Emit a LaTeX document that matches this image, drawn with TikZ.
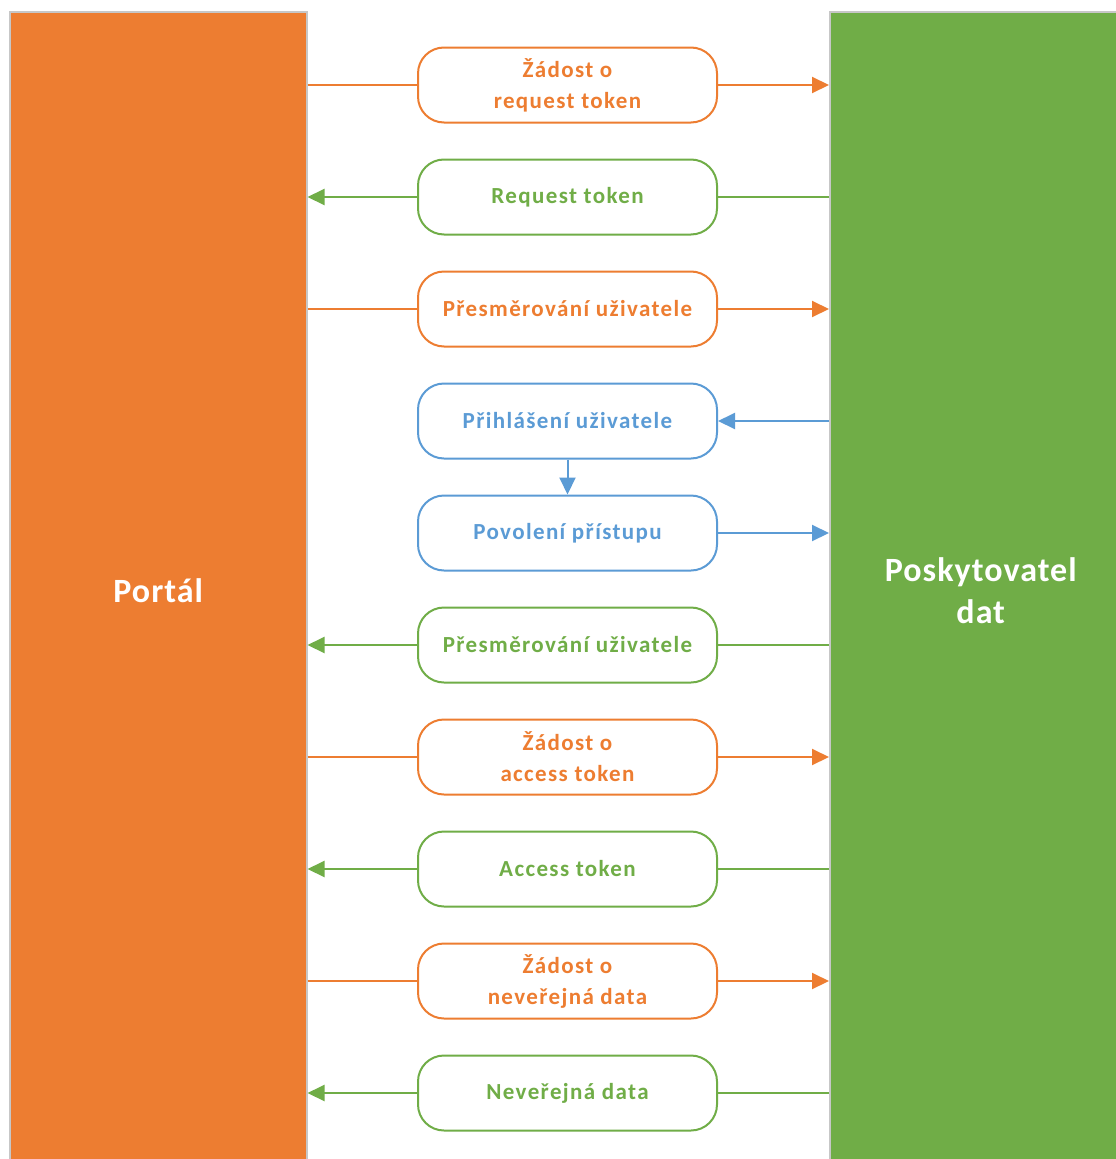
\documentclass[tikz,border=0pt]{standalone}
\usepackage{fontspec}
\setmainfont{Carlito}
\newfontfamily\lanefont[LetterSpace=3]{Carlito}
\newfontfamily\msgfont[LetterSpace=6]{Carlito}
\usetikzlibrary{arrows.meta}
\definecolor{orng}{HTML}{ED7D31}
\definecolor{grn}{HTML}{70AD47}
\definecolor{blu}{HTML}{5B9BD5}
\begin{document}
\begin{tikzpicture}[x=1pt,y=-1pt,
  lane/.style={draw=black!22, line width=1.5pt, inner sep=0pt, anchor=north west,
    minimum height=1158pt, text=white, align=center,
    font=\lanefont\bfseries\fontsize{34}{42}\selectfont},
  msg/.style={draw=#1, text=#1, fill=white, line width=2pt, rounded corners=26pt,
    minimum width=299pt, minimum height=75pt, inner sep=0pt, align=center,
    font=\msgfont\bfseries\fontsize{23}{31}\selectfont},
  wire/.style={draw=#1, line width=2pt},
  arrowwire/.style={wire=#1, -{Triangle[length=17pt,width=16pt]}}
]
\useasboundingbox (0,0) rectangle (1116,1159);
\fill[white] (0,0) rectangle (1116,1159);
\clip (0,0) rectangle (1116,1159);

% the two parties
\node[lane, fill=orng, minimum width=297pt] (portal) at (9,11) {Portál};
\node[lane, fill=grn, minimum width=302pt] (provider) at (829,11) {Poskytovatel\\dat};

% messages
\node[msg=orng] (m1)  at (567.5,85)   {Žádost o\\request token};
\node[msg=grn]  (m2)  at (567.5,197)  {Request token};
\node[msg=orng] (m3)  at (567.5,309)  {Přesměrování uživatele};
\node[msg=blu]  (m4)  at (567.5,421)  {Přihlášení uživatele};
\node[msg=blu]  (m5)  at (567.5,533)  {Povolení přístupu};
\node[msg=grn]  (m6)  at (567.5,645)  {Přesměrování uživatele};
\node[msg=orng] (m7)  at (567.5,757)  {Žádost o\\access token};
\node[msg=grn]  (m8)  at (567.5,869)  {Access token};
\node[msg=orng] (m9)  at (567.5,981)  {Žádost o\\neveřejná data};
\node[msg=grn]  (m10) at (567.5,1093) {Neveřejná data};

% portal -> provider
\foreach \m in {m1,m3,m7,m9}{
  \draw[wire=orng] (\m.west -| portal.east) -- (\m.west);
  \draw[arrowwire=orng] (\m.east) -- (\m.east -| provider.west);
}
% provider -> portal
\foreach \m in {m2,m6,m8,m10}{
  \draw[wire=grn] (\m.east -| provider.west) -- (\m.east);
  \draw[arrowwire=grn] (\m.west) -- (\m.west -| portal.east);
}
% user interaction at the provider
\draw[arrowwire=blu] (m4.east -| provider.west) -- (m4.east);
\draw[arrowwire=blu] (m4.south) -- (m5.north);
\draw[arrowwire=blu] (m5.east) -- (m5.east -| provider.west);
\end{tikzpicture}
\end{document}
